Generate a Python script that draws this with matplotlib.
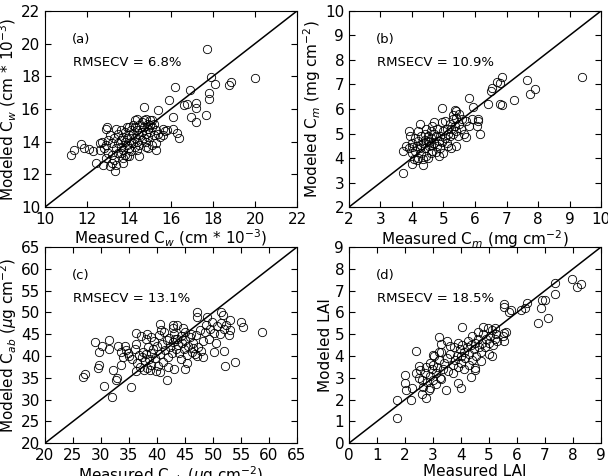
import matplotlib
matplotlib.use('Agg')
import matplotlib.pyplot as plt
import numpy as np

# Panel (a): Cw, cm * 10^-3
cw_measured = [17.7, 20.0, 17.9, 18.1, 18.75, 18.85, 17.8, 17.8, 17.65, 16.9,
               16.2, 15.9, 16.6, 16.75, 17.2, 17.2, 17.2, 16.95, 16.1, 16.1,
               15.8, 16.3, 16.4, 15.4, 14.7, 15.6, 15.3, 15.1, 14.5, 14.8,
               11.25, 11.4, 11.7, 11.85, 12.1, 12.3, 12.45, 12.75, 12.6, 12.7,
               12.9, 12.95, 13.35, 13.4, 13.7, 13.6, 13.9,
               13.2, 13.3, 13.4, 13.5, 13.5, 13.6, 13.6, 13.7, 13.7, 13.8,
               13.8, 13.9, 13.9, 14.0, 14.0, 14.0, 14.1, 14.1, 14.2, 14.2,
               14.3, 14.3, 14.3, 14.4, 14.4, 14.5, 14.5, 14.5, 14.6, 14.6,
               14.7, 14.7, 14.8, 14.8, 14.9, 14.9, 15.0, 15.0, 15.1, 15.2,
               15.2, 15.3, 15.4, 15.5, 13.1, 13.0, 12.9, 13.2, 13.3, 13.4,
               13.6, 13.8, 14.0, 14.1, 14.2, 14.4, 14.6, 14.8, 14.9, 15.0,
               12.8, 13.0, 13.5, 13.9, 14.3, 14.7, 15.1, 12.6, 12.9, 13.7,
               14.4, 15.6, 15.7, 15.3, 13.2, 13.1, 14.9]
cw_modeled = [19.65, 17.9, 17.95, 17.55, 17.45, 17.65, 16.95, 16.6, 15.65, 17.15,
              17.35, 16.55, 16.25, 16.3, 16.35, 16.05, 15.2, 15.5, 15.5, 14.8,
              14.7, 14.55, 14.2, 15.95, 16.15, 14.4, 13.5, 13.8, 13.1, 13.7,
              13.2, 13.5, 13.85, 13.6, 13.55, 13.45, 12.7, 12.6, 13.9, 14.0,
              14.75, 14.9, 12.2, 12.55, 12.7, 13.3, 13.1,
              13.9, 14.2, 13.6, 14.5, 13.9, 14.1, 13.7, 14.3, 13.5, 14.0,
              14.6, 13.8, 14.2, 13.6, 14.4, 14.9, 14.0, 13.4, 14.5, 13.9,
              14.2, 15.3, 13.7, 14.7, 14.0, 15.0, 14.4, 13.8, 14.6, 15.2,
              14.2, 14.9, 15.4, 14.5, 14.8, 15.1, 14.6, 15.3, 14.9, 15.1,
              14.4, 14.7, 14.5, 14.3, 14.4, 13.3, 13.0, 13.2, 12.9, 14.8,
              14.7, 13.2, 13.1, 14.7, 15.0, 15.4, 14.1, 14.0, 14.3, 15.0,
              13.6, 14.1, 13.3, 14.9, 14.9, 15.3, 15.3, 13.5, 13.8, 13.0,
              13.5, 14.8, 14.65, 13.9, 12.7, 12.5, 13.6]

# Panel (b): Cm, mg cm^-2
cm_measured = [9.4, 7.65, 7.75, 7.9, 7.25, 6.85, 6.8, 6.7, 6.55, 6.5,
               6.4, 6.8, 6.85, 5.8, 5.95, 6.15, 6.1, 6.1, 6.05, 5.7,
               5.35, 5.4, 4.95, 5.4, 5.0, 4.35, 3.7, 3.7, 3.8, 3.9,
               4.25, 4.7, 4.95, 4.0, 4.85,
               3.9, 4.0, 4.0, 4.1, 4.1, 4.15, 4.2, 4.2, 4.25, 4.3,
               4.3, 4.35, 4.4, 4.4, 4.45, 4.5, 4.5, 4.55, 4.6, 4.6,
               4.65, 4.7, 4.7, 4.75, 4.8, 4.8, 4.85, 4.9, 4.9, 5.0,
               4.05, 4.15, 4.35, 4.5, 4.6, 3.95, 4.2, 4.45, 4.55, 4.65,
               4.0, 4.3, 4.4, 4.6, 4.75, 4.95,
               5.05, 5.1, 5.1, 5.15, 5.2, 5.2, 5.25, 5.3, 5.3, 5.35,
               5.4, 5.4, 5.45, 5.5, 5.55, 5.6, 5.65, 5.7, 5.25, 5.15,
               5.05, 5.5, 5.8, 5.9, 5.3]
cm_modeled = [7.3, 7.2, 6.6, 6.8, 6.35, 7.3, 7.05, 7.1, 6.85, 6.75,
              6.2, 6.2, 6.15, 6.45, 6.1, 5.0, 5.6, 5.5, 5.3, 4.85,
              5.95, 5.9, 6.05, 4.5, 4.2, 3.7, 3.4, 4.3, 4.5, 5.1,
              5.4, 5.45, 5.45, 3.75, 4.1,
              4.4, 4.6, 4.2, 4.8, 4.3, 4.5, 4.0, 4.7, 4.4, 4.9,
              4.2, 4.6, 5.0, 4.4, 4.1, 4.7, 4.9, 4.5, 5.1, 4.8,
              4.3, 4.6, 5.0, 4.9, 4.5, 5.2, 4.7, 4.9, 4.4, 5.1,
              3.95, 3.9, 3.95, 4.0, 4.2, 4.9, 5.1, 5.2, 4.65, 5.3,
              4.45, 4.55, 4.75, 4.55, 4.25, 4.65,
              4.8, 5.2, 4.6, 5.0, 5.4, 4.9, 5.2, 5.6, 5.0, 5.3,
              5.65, 5.1, 4.9, 5.4, 5.2, 5.6, 5.0, 5.5, 4.4, 4.5,
              5.5, 5.8, 5.3, 5.6, 5.75]

# Panel (c): Cab, ug cm^-2
cab_measured = [26.7, 27.2, 29.0, 29.4, 29.7, 29.6, 30.2, 30.6, 31.5, 31.4,
                32.0, 32.1, 32.6, 32.9, 33.0, 33.6, 34.2, 34.5, 33.5, 35.4,
                36.3, 38.2, 39.0, 41.7, 40.6, 43.0, 45.0, 45.4, 47.1, 47.1,
                49.0, 51.5, 51.7, 53.0, 55.0, 55.4, 58.8, 50.1, 51.9, 52.2,
                54.0, 48.2, 42.9, 42.8, 40.6, 44.6,
                35.0, 35.5, 36.0, 36.5, 36.8, 37.0, 37.3, 37.5, 37.8, 38.0,
                38.2, 38.4, 38.6, 38.9, 39.0, 39.2, 39.5, 39.7, 40.0, 40.2,
                40.4, 40.6, 40.9, 41.1, 41.3, 41.5, 41.8, 42.0, 42.2, 42.4,
                42.6, 42.8, 43.0, 43.2, 43.4, 43.6, 43.8, 44.0, 44.3, 44.5,
                44.8, 45.0, 45.3, 45.6, 45.9, 46.2, 46.5, 46.8, 47.0, 47.3,
                47.6, 47.9, 48.2, 48.5, 48.8, 49.2, 49.5, 49.8, 50.2, 50.5,
                50.8, 51.2, 51.5, 52.0, 52.4, 52.8, 53.0, 36.2, 37.6, 38.8,
                39.8, 34.0, 34.8, 36.3, 37.2, 38.0, 40.8, 45.0, 46.0, 46.5,
                47.2, 44.2, 41.9, 43.5]
cab_modeled = [35.1, 35.9, 43.3, 37.3, 37.9, 41.0, 42.4, 33.2, 43.7, 41.6,
               30.5, 36.8, 34.5, 35.0, 42.3, 41.0, 42.4, 41.3, 38.0, 32.9,
               45.3, 45.0, 44.3, 34.5, 36.4, 37.1, 37.0, 38.5, 50.0, 49.0,
               49.0, 50.0, 49.5, 48.2, 47.9, 46.7, 45.6, 40.9, 41.1, 37.6,
               38.7, 39.8, 47.2, 46.5, 47.3, 46.4,
               40.0, 39.2, 41.5, 38.5, 40.2, 37.5, 39.8, 41.0, 38.8, 40.5,
               37.2, 42.0, 39.4, 40.8, 38.0, 41.6, 43.5, 39.5, 42.3, 37.8,
               44.8, 40.5, 42.8, 38.6, 45.5, 41.3, 43.6, 39.8, 44.2, 42.0,
               40.6, 43.2, 45.0, 44.0, 41.6, 43.8, 42.5, 40.8, 44.6, 42.9,
               41.5, 43.6, 40.2, 42.4, 44.3, 41.0, 43.0, 40.4, 44.8, 42.1,
               46.0, 41.2, 43.4, 45.5, 47.2, 44.0, 46.3, 47.8, 45.3, 43.0,
               46.8, 45.0, 47.6, 46.2, 47.0, 44.9, 46.0, 36.5, 36.8, 36.9,
               36.6, 39.8, 40.8, 42.8, 44.6, 44.0, 46.0, 45.5, 45.0, 41.8,
               40.1, 39.2, 37.5, 47.0]

# Panel (d): LAI
lai_measured = [1.7, 1.7, 2.0, 2.0, 2.05, 2.2, 2.25, 2.4, 2.5, 2.6,
                2.75, 2.85, 2.9, 3.2, 3.3, 3.5, 3.45, 3.9, 4.0, 4.05,
                4.35, 4.5, 4.7, 5.1, 5.55, 5.55, 5.7, 5.8, 6.15, 6.35,
                6.3, 6.75, 7.1, 6.9, 6.85, 7.0, 7.35, 7.35, 7.95, 8.15,
                8.3, 5.55, 5.55,
                2.4, 2.5, 2.55, 2.6, 2.7, 2.75, 2.8, 2.9, 2.95, 3.0,
                3.0, 3.05, 3.1, 3.15, 3.2, 3.25, 3.3, 3.35, 3.4, 3.5,
                3.55, 3.6, 3.7, 3.75, 3.8, 3.85, 3.9, 3.95, 4.0, 4.0,
                4.05, 4.1, 4.15, 4.2, 4.25, 4.3, 4.35, 4.4, 4.45, 4.5,
                4.55, 4.6, 4.65, 4.7, 4.75, 4.8, 4.85, 4.9, 4.95, 5.0,
                5.0, 5.05, 5.1, 5.15, 5.2, 5.25, 5.3, 5.2, 4.8, 4.6,
                4.4, 3.9, 3.6, 2.9, 3.1, 3.3, 2.65, 3.7, 4.1, 4.5,
                5.5, 5.6, 3.0, 3.2, 4.3]
lai_modeled = [1.15, 2.0, 3.15, 2.75, 2.45, 2.0, 2.55, 4.25, 3.55, 2.25,
               2.05, 2.45, 2.55, 4.85, 4.55, 4.7, 2.45, 2.75, 2.55, 5.35,
               3.05, 3.35, 3.75, 4.0, 6.4, 6.25, 6.0, 6.1, 6.1, 6.45,
               6.2, 5.5, 5.75, 6.55, 6.2, 6.55, 7.35, 6.85, 7.55, 7.15,
               7.3, 4.7, 5.05,
               3.2, 3.0, 3.35, 2.9, 3.2, 3.5, 2.8, 3.1, 3.4, 2.9,
               3.6, 4.0, 3.2, 3.5, 3.8, 3.0, 4.2, 3.4, 3.7, 3.9,
               3.3, 4.1, 3.6, 4.4, 3.8, 4.0, 3.5, 4.3, 4.0, 3.7,
               4.5, 4.2, 3.9, 4.4, 4.7, 4.1, 4.5, 3.8, 4.3, 4.6,
               4.0, 4.8, 4.4, 4.2, 4.6, 5.0, 4.4, 4.8, 5.3, 4.6,
               4.1, 4.9, 5.2, 4.5, 4.8, 5.0, 4.7, 5.3, 5.35, 5.1,
               4.9, 4.6, 4.45, 3.7, 2.7, 2.95, 2.6, 3.2, 3.4, 3.45,
               4.9, 5.1, 4.05, 4.2, 3.6]

panels = [
    (cw_measured, cw_modeled, 10, 22, 2, '(a)', 'RMSECV = 6.8%',
     r'Measured C$_w$ (cm * 10$^{-3}$)', r'Modeled C$_w$ (cm * 10$^{-3}$)'),
    (cm_measured, cm_modeled, 2, 10, 1, '(b)', 'RMSECV = 10.9%',
     r'Measured C$_m$ (mg cm$^{-2}$)', r'Modeled C$_m$ (mg cm$^{-2}$)'),
    (cab_measured, cab_modeled, 20, 65, 5, '(c)', 'RMSECV = 13.1%',
     r'Measured C$_{ab}$ ($\mu$g cm$^{-2}$)', r'Modeled C$_{ab}$ ($\mu$g cm$^{-2}$)'),
    (lai_measured, lai_modeled, 0, 9, 1, '(d)', 'RMSECV = 18.5%',
     'Measured LAI', 'Modeled LAI'),
]

# Axes boxes in figure fraction [left, bottom, width, height]
boxes = [[0.074, 0.565, 0.4145, 0.412],
         [0.574, 0.565, 0.4145, 0.412],
         [0.074, 0.069, 0.4145, 0.412],
         [0.574, 0.069, 0.4145, 0.412]]

fig = plt.figure(figsize=(6.08, 4.76), dpi=100)

for box, (xs, ys, lo, hi, step, tag, rmse, xlab, ylab) in zip(boxes, panels):
    ax = fig.add_axes(box)
    # 1:1 line corner to corner
    ax.plot([lo, hi], [lo, hi], color='black', linewidth=1.1)
    ax.plot(xs, ys, linestyle='none', marker='o', markersize=6,
            markerfacecolor='none', markeredgecolor='black', markeredgewidth=0.6)
    ax.set_xlim(lo, hi)
    ax.set_ylim(lo, hi)
    ticks = np.arange(lo, hi + step / 2, step)
    ax.set_xticks(ticks)
    ax.set_yticks(ticks)
    ax.tick_params(direction='in', top=True, right=True, length=4,
                   labelsize=11, width=0.8)
    ax.set_xlabel(xlab, fontsize=11, labelpad=1)
    ax.set_ylabel(ylab, fontsize=11, labelpad=1)
    ax.text(0.105, 0.835, tag, transform=ax.transAxes, fontsize=9.5)
    ax.text(0.11, 0.72, rmse, transform=ax.transAxes, fontsize=9.5)

fig.savefig('out.png', dpi=100)
